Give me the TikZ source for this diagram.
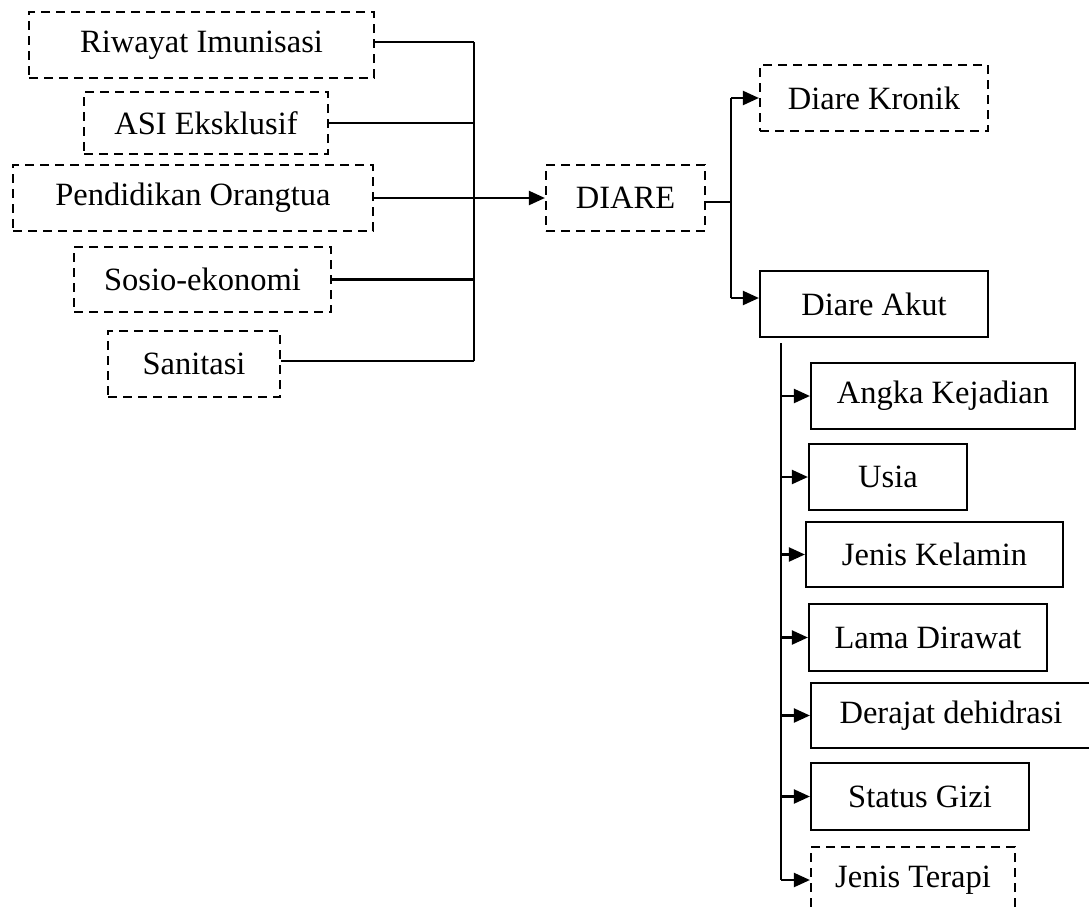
\documentclass[tikz,border=0pt]{standalone}
\usepackage{fontspec}
\setmainfont{Liberation Serif}
\usetikzlibrary{arrows.meta}
\begin{document}
\begin{tikzpicture}[x=1pt,y=-1pt,
  box/.style={draw, line width=2.2pt, inner sep=0pt, font=\fontsize{32.5}{38}\selectfont},
  dbox/.style={box, dash pattern=on 9pt off 6pt},
  conn/.style={line width=2.2pt},
  arr/.style={conn, -{Triangle[length=16pt,width=14pt]}}]
\useasboundingbox (0,0) rectangle (1089,910);
% left factors
\node[dbox, minimum width=345pt, minimum height=66pt] (riw) at (201.5,45) {Riwayat Imunisasi};
\node[dbox, minimum width=244pt, minimum height=62pt] (asi) at (206,123) {ASI Eksklusif};
\node[dbox, minimum width=360pt, minimum height=66pt] (pend) at (193,198) {Pendidikan Orangtua};
\node[dbox, minimum width=257pt, minimum height=65pt] (sos) at (202.5,279.5) {Sosio-ekonomi};
\node[dbox, minimum width=172pt, minimum height=66pt] (san) at (194,364) {Sanitasi};
% centre
\node[dbox, minimum width=159pt, minimum height=66pt] (diare) at (625.5,198) {DIARE};
\node[dbox, minimum width=228pt, minimum height=66pt] (kronik) at (874,98) {Diare Kronik};
\node[box, minimum width=228pt, minimum height=66pt] (akut) at (874,304) {Diare Akut};
% right column
\node[box, minimum width=264pt, minimum height=66pt] (angka) at (943,396) {Angka Kejadian};
\node[box, minimum width=158pt, minimum height=66pt] (usia) at (888,477) {Usia};
\node[box, minimum width=257pt, minimum height=65pt] (jk) at (934.5,554.5) {Jenis Kelamin};
\node[box, minimum width=238pt, minimum height=67pt] (lama) at (928,637.5) {Lama Dirawat};
\node[box, minimum width=280pt, minimum height=65pt] (deraj) at (951,715.5) {Derajat dehidrasi};
\node[box, minimum width=218pt, minimum height=67pt] (status) at (920,796.5) {Status Gizi};
\node[dbox, minimum width=204pt, minimum height=66pt] (terapi) at (913,880) {Jenis Terapi};
% junction coordinates
\coordinate (bus) at (474,0);
\coordinate (split) at (731,0);
\coordinate (col) at (781,0);
% left bus
\draw[conn] ([yshift=3pt]riw.east) -- ([yshift=3pt]riw.east -| bus);
\draw[conn] (asi.east) -- (asi.east -| bus);
\draw[conn] (pend.east) -- (pend.east -| bus);
\draw[conn] (sos.east) -- (sos.east -| bus);
\draw[conn] ([yshift=3pt]san.east) -- ([yshift=3pt]san.east -| bus);
\draw[conn] ([yshift=3pt]riw.east -| bus) -- ([yshift=3pt]san.east -| bus);
\draw[arr] (pend.east -| bus) -- (diare.west);
% diare split
\draw[conn] ([yshift=-4pt]diare.east) -- ([yshift=-4pt]diare.east -| split);
\draw[conn] (kronik.west -| split) -- ([yshift=6pt]akut.west -| split);
\draw[arr] (kronik.west -| split) -- (kronik.west);
\draw[arr] ([yshift=6pt]akut.west -| split) -- ([yshift=6pt]akut.west);
% akut column
\draw[conn] ([yshift=-5pt]akut.south -| col) -- (terapi.west -| col);
\foreach \n in {angka,usia,jk,lama,deraj,status,terapi}
  \draw[arr] (\n.west -| col) -- (\n.west);
\end{tikzpicture}
\end{document}
